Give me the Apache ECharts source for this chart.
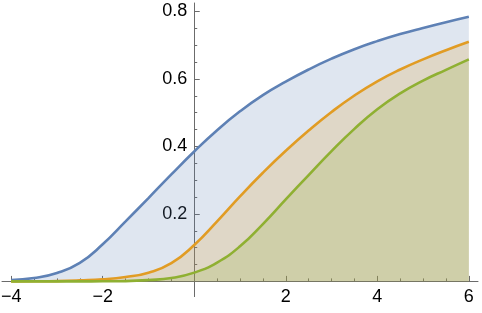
<!DOCTYPE html>
<html>
<head>
<meta charset="utf-8">
<script src="https://cdn.jsdelivr.net/npm/echarts@6/dist/echarts.min.js"></script>
<style>html,body{margin:0;padding:0;background:#fff}#c{width:482px;height:313px}</style>
</head>
<body>
<div id="c"></div>
<script>
const xs = [-4,-3.5,-3,-2.5,-2,-1.5,-1,-0.5,0,0.5,1,1.5,2,2.5,3,3.5,4,4.5,5,5.5,6];
const blueValues   = [0.004,0.010,0.025,0.055,0.110,0.178,0.247,0.317,0.385,0.448,0.504,0.552,0.592,0.628,0.660,0.688,0.712,0.733,0.751,0.768,0.784];
const orangeValues = [0.000,0.0003,0.001,0.003,0.006,0.013,0.026,0.054,0.108,0.178,0.252,0.322,0.387,0.447,0.502,0.551,0.593,0.628,0.658,0.685,0.710];
const greenValues  = [0.000,0.000,0.000,0.000,0.0003,0.001,0.004,0.010,0.026,0.056,0.104,0.170,0.243,0.315,0.386,0.452,0.510,0.557,0.595,0.627,0.658];
const xLabelValues = [-4,-2,2,4,6];
const xMajorTicks = [-4,-2,2,4,6];
const xMinorTicks = [-4,-3.5,-3,-2.5,-2,-1.5,-1,-0.5,0.5,1,1.5,2,2.5,3,3.5,4,4.5,5,5.5,6];
const yLabelValues = [0.2,0.4,0.6,0.8];
const yMinorTicks = [0.05,0.1,0.15,0.2,0.25,0.3,0.35,0.4,0.45,0.5,0.55,0.6,0.65,0.7,0.75,0.8];

const colors = ['#5E81B5','#E19C24','#8FB032'];
const axisColor = '#6b6b6b';
const labelFont = {color:'#000', fontFamily:'Liberation Sans, Arial, sans-serif', fontSize:18};
const X_MIN = -4.2, X_MAX = 6.2, Y_MIN = -0.045, Y_MAX = 0.825;

// plot box layout
const PL = 2, PW = 476, PT = 3, PH = 293.6;
const zeroX = PL + (0 - X_MIN) / (X_MAX - X_MIN) * PW;      // pixel column of x = 0
const zeroY = PT + (Y_MAX - 0) / (Y_MAX - Y_MIN) * PH;      // pixel row of y = 0

function fmtX(v){ v = Number(v); return v < 0 ? '\u2212' + Math.abs(v) : String(v); }
function fmtY(v){ return Number(v).toFixed(1); }
function pairs(vals){ return xs.map((x,i)=>[x, vals[i]]); }

const chart = echarts.init(document.getElementById('c'), null, {renderer:'canvas'});
const mkSeries = (name, vals, color) => ({
  name, type:'line', data: pairs(vals), xAxisIndex:0, yAxisIndex:0,
  smooth: 0.5, showSymbol:false, symbol:'none',
  lineStyle:{color, width:2.6},
  areaStyle:{color, opacity:0.2, origin:'auto'},
  silent:true, animation:false
});
const hiddenX = (gi) => ({type:'value', gridIndex:gi, min:X_MIN, max:X_MAX, show:false});
const hiddenY = (gi) => ({type:'value', gridIndex:gi, min:Y_MIN, max:Y_MAX, show:false});

chart.setOption({
  animation:false,
  backgroundColor:'#fff',
  grid:[
    {left:PL, width:PW, top:PT, height:PH, outerBoundsMode:'none', containLabel:false},
    {left:PL, width:PW, top:PT, height:zeroY - PT, outerBoundsMode:'none', containLabel:false},
    {left:zeroX, width:PL + PW - zeroX, top:PT, height:PH, outerBoundsMode:'none', containLabel:false}
  ],
  xAxis:[
    hiddenX(0),
    {type:'value', gridIndex:1, min:X_MIN, max:X_MAX, position:'bottom',
     axisLine:{show:true, onZero:false, lineStyle:{color:axisColor, width:1}},
     axisTick:{show:true, inside:true, length:5.5, customValues:xMajorTicks, lineStyle:{color:axisColor}},
     axisLabel:{show:true, customValues:xLabelValues, formatter:fmtX, margin:7, hideOverlap:false, ...labelFont},
     splitLine:{show:false}},
    {type:'value', gridIndex:1, min:X_MIN, max:X_MAX, position:'bottom', offset:0,
     axisLine:{show:false, onZero:false},
     axisTick:{show:true, inside:true, length:3, customValues:xMinorTicks, lineStyle:{color:axisColor}},
     axisLabel:{show:false}, splitLine:{show:false}},
    hiddenX(2)
  ],
  yAxis:[
    hiddenY(0),
    hiddenY(1),
    {type:'value', gridIndex:2, min:Y_MIN, max:Y_MAX, position:'left',
     axisLine:{show:true, onZero:false, lineStyle:{color:axisColor, width:1}},
     axisTick:{show:true, inside:true, length:5.5, customValues:yLabelValues, lineStyle:{color:axisColor}},
     axisLabel:{show:true, customValues:yLabelValues, formatter:fmtY, margin:7, hideOverlap:false, ...labelFont},
     splitLine:{show:false}},
    {type:'value', gridIndex:2, min:Y_MIN, max:Y_MAX, position:'left', offset:0,
     axisLine:{show:false, onZero:false},
     axisTick:{show:true, inside:true, length:3, customValues:yMinorTicks, lineStyle:{color:axisColor}},
     axisLabel:{show:false}, splitLine:{show:false}}
  ],
  series:[
    mkSeries('blue', blueValues, colors[0]),
    mkSeries('orange', orangeValues, colors[1]),
    mkSeries('green', greenValues, colors[2])
  ]
});
</script>
</body>
</html>
